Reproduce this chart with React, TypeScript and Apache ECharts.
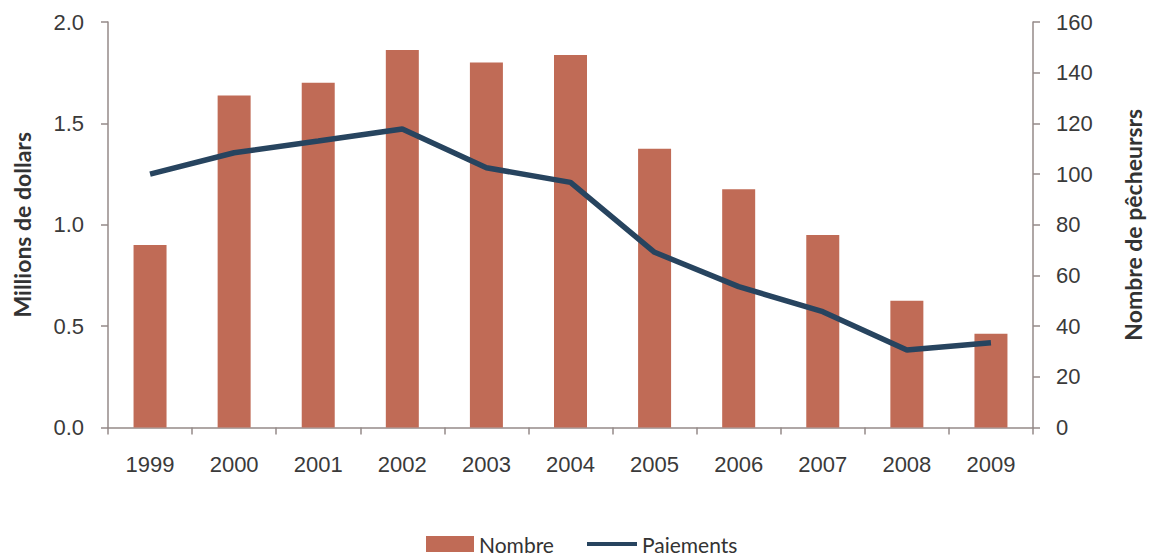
import React, { useEffect, useRef } from "react";
import * as echarts from "echarts";

const years = ["1999", "2000", "2001", "2002", "2003", "2004", "2005", "2006", "2007", "2008", "2009"];
const nombre = [72, 131, 136, 149, 144, 147, 110, 94, 76, 50, 37];
const paiements = [1.25, 1.355, 1.413, 1.472, 1.281, 1.209, 0.864, 0.695, 0.571, 0.382, 0.418];

const axisColor = "#958a88";
const labelColor = "#3a3a3a";
const tickFont = "'Liberation Sans', Arial, sans-serif";
const titleFont = "Lato, 'Open Sans', sans-serif";

export default function App() {
  const ref = useRef<HTMLDivElement>(null);
  useEffect(() => {
    if (!ref.current) return;
    const chart = echarts.init(ref.current, undefined, { renderer: "svg" });
    chart.setOption({
      animation: false,
      grid: { left: 108, right: 112, top: 22, bottom: 128.5, containLabel: false },
      legend: [
        {
          data: [{ name: "Nombre", icon: "rect" }],
          left: 421,
          top: 528,
          itemWidth: 48,
          itemHeight: 16,
          textStyle: { fontFamily: titleFont, fontSize: 21, lineHeight: 22, color: "#333" },
          selectedMode: false,
        },
        {
          data: [{ name: "Paiements", icon: "rect" }],
          left: 582,
          top: 528,
          itemWidth: 50,
          itemHeight: 4,
          textStyle: { fontFamily: titleFont, fontSize: 21, lineHeight: 22, color: "#333" },
          selectedMode: false,
        },
      ],
      xAxis: {
        type: "category",
        data: years,
        axisLine: { lineStyle: { color: axisColor, width: 1.5 } },
        axisTick: { show: true, length: 7, lineStyle: { color: axisColor, width: 1.5 } },
        axisLabel: { fontFamily: tickFont, fontSize: 22, color: labelColor, margin: 26 },
      },
      yAxis: [
        {
          type: "value",
          min: 0,
          max: 2,
          interval: 0.5,
          name: "Millions de dollars",
          nameLocation: "middle",
          nameRotate: 90,
          nameGap: 75,
          nameTextStyle: { fontFamily: titleFont, fontWeight: "bold", fontSize: 23, color: "#333" },
          axisLine: { show: true, lineStyle: { color: axisColor, width: 1.5 } },
          axisTick: { show: true, length: 7, lineStyle: { color: axisColor, width: 1.5 } },
          splitLine: { show: false },
          axisLabel: {
            fontFamily: tickFont,
            fontSize: 22,
            color: labelColor,
            margin: 24,
            formatter: (v: number) => v.toFixed(1),
          },
        },
        {
          type: "value",
          min: 0,
          max: 160,
          interval: 20,
          position: "right",
          name: "Nombre de pêcheursrs",
          nameLocation: "middle",
          nameRotate: 90,
          nameGap: 88,
          nameTextStyle: { fontFamily: titleFont, fontWeight: "bold", fontSize: 23, color: "#333" },
          axisLine: { show: true, lineStyle: { color: axisColor, width: 1.5 } },
          axisTick: { show: true, length: 7, lineStyle: { color: axisColor, width: 1.5 } },
          splitLine: { show: false },
          axisLabel: { fontFamily: tickFont, fontSize: 22, color: labelColor, margin: 23 },
        },
      ],
      series: [
        {
          name: "Nombre",
          type: "bar",
          yAxisIndex: 1,
          data: nombre,
          barWidth: 33,
          itemStyle: { color: "#c06b56" },
        },
        {
          name: "Paiements",
          type: "line",
          yAxisIndex: 0,
          data: paiements,
          symbol: "none",
          lineStyle: { color: "#27445f", width: 5.5 },
          itemStyle: { color: "#27445f" },
        },
      ],
    });
    return () => chart.dispose();
  }, []);
  return <div ref={ref} style={{ width: 1152, height: 556, position: "absolute", left: 0, top: 0 }} />;
}
